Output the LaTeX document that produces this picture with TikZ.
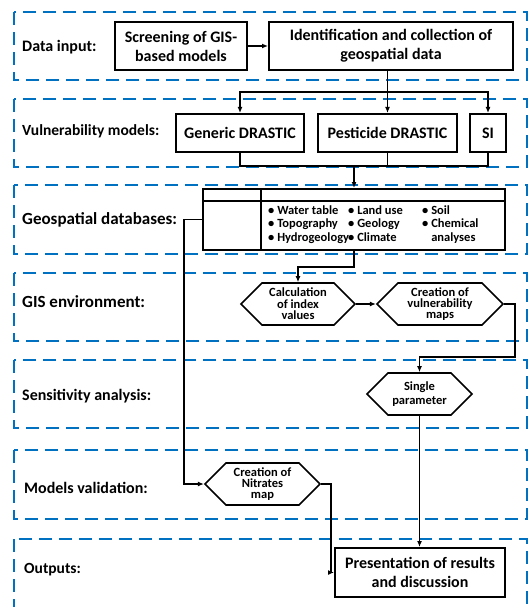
\documentclass[tikz,border=0pt]{standalone}
\usepackage{fontspec}
\setmainfont{Carlito}
\usepackage{xcolor}
\definecolor{bandblue}{RGB}{0,112,192}
\usetikzlibrary{shapes.symbols}
\usetikzlibrary{arrows.meta}

\newcommand{\stagefont}[1]{\fontsize{#1}{18}\selectfont\bfseries}

\tikzset{
	band/.style={draw=bandblue, line width=2pt, dash pattern=on 13pt off 7pt},
	stage/.style={anchor=west, inner sep=0pt},
	box/.style={draw, line width=2pt, fill=white, align=center, inner sep=2pt, font=\fontsize{16}{19}\selectfont\bfseries},
	hexa/.style={draw, line width=1.6pt, fill=white, signal, signal to=east and west, signal pointer angle=90, inner sep=0pt, minimum height=42pt, align=center, font=\fontsize{12.5}{11.4}\selectfont\bfseries},
	dbtext/.style={anchor=base west, inner sep=0pt, align=left, font=\fontsize{12.5}{13.5}\selectfont\bfseries},
	link/.style={line width=1.6pt},
	arr/.style={link, -{Latex[length=6pt,width=5pt]}},
}

\begin{document}
\begin{tikzpicture}[x=1pt, y=-1pt]
\useasboundingbox (0,0) rectangle (529,607);

% stages
\draw[band] (14,12) rectangle (527,80);
\draw[band] (14,99) rectangle (527,167);
\draw[band] (14,185) rectangle (527,254);
\draw[band] (14,273) rectangle (527,341);
\draw[band] (14,360) rectangle (527,428);
\draw[band] (14,450) rectangle (527,519);
\draw[band] (14,539) rectangle (527,625);

\node[stage, font=\stagefont{16}] (lblinput) at (22,47) {Data input:};
\node[stage, font=\stagefont{15.5}] (lblmodels) at (22,131) {Vulnerability models:};
\node[stage, font=\stagefont{17}] (lbldata) at (22,220) {Geospatial databases:};
\node[stage, font=\stagefont{17}] (lblgis) at (22,302) {GIS environment:};
\node[stage, font=\stagefont{16}] (lblsens) at (22,396) {Sensitivity analysis:};
\node[stage, font=\stagefont{16}] (lblvalid) at (24,488) {Models validation:};
\node[stage, font=\stagefont{15.5}] (lblout) at (24,570) {Outputs:};

\node[box, minimum width=132pt, minimum height=48pt] (screen) at (181,46) {Screening of GIS-\\based models};
\node[box, minimum width=244pt, minimum height=48pt] (ident) at (391,46) {Identification and collection of\\geospatial data};

\node[box, minimum width=128pt, minimum height=38pt] (generic) at (240,133) {Generic DRASTIC};
\node[box, minimum width=139pt, minimum height=38pt] (pesticide) at (387.5,133) {Pesticide DRASTIC};
\node[box, minimum width=36pt, minimum height=38pt] (si) at (488,133) {SI};

% database table
\node[draw, line width=2pt, fill=white, minimum width=302pt, minimum height=61pt] (dbase) at (354,219.5) {};
\draw[line width=2pt] ([yshift=-13pt]dbase.north west) -- ([yshift=-13pt]dbase.north east);
\draw[line width=2pt] ([xshift=59pt]dbase.north west) -- ([xshift=59pt]dbase.south west);
\node[dbtext] (col1) at (268,241) {\textbullet\ Water table\\\textbullet\ Topography\\\textbullet\ Hydrogeology};
\node[dbtext] (col2) at (348,241) {\textbullet\ Land use\\\textbullet\ Geology\\\textbullet\ Climate};
\node[dbtext] (col3) at (422,241) {\textbullet\ Soil\\\textbullet\ Chemical\\\phantom{\textbullet\ }analyses};

\node[hexa, minimum width=114pt] (calc) at (298,304) {Calculation\\of index\\values};
\node[hexa, minimum width=126pt] (vmaps) at (440,304) {Creation of\\vulnerability\\maps};
\node[hexa, minimum width=105pt] (single) at (419.5,394) {Single\\[3pt]parameter};
\node[hexa, minimum width=115pt] (nitrates) at (262.5,484) {Creation of\\Nitrates\\map};

\node[box, minimum width=170pt, minimum height=49pt] (present) at (420,572.5) {Presentation of results\\and discussion};

% connectors
\coordinate (fork) at (pesticide.north |- 0,92);
\coordinate (merge) at (pesticide.south |- 0,166);
\coordinate (turn) at (515,357);

\draw[arr] (screen) -- (ident);
\draw[link] (ident.south -| fork) -- (fork);
\draw[arr] (fork) -| (generic.north);
\draw[arr] (fork) -- (pesticide.north);
\draw[arr] (fork) -| (si.north);

\draw[link] (generic.south) |- (merge) -| (si.south);
\draw[link] (pesticide.south) -- (merge);
\draw[arr] (dbase.north |- merge) -- (dbase.north);

\draw[arr] (dbase.south) -- ++(0,16) -| (calc.north);
\draw[arr] (calc.east) -- (vmaps.west);
\draw[arr] (vmaps.east) -| (turn) -| (single.north);
\draw[arr] (single.south) -- (single.south |- present.north);

\draw[arr] (dbase.west) -- ++(-18,0) |- (nitrates.west);
\draw[arr] (nitrates.east) -- ++(10,0) |- (present.west);
\end{tikzpicture}
\end{document}
